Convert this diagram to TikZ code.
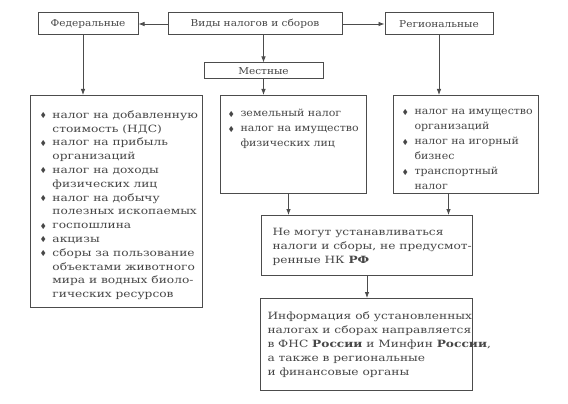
\documentclass[tikz,border=0pt]{standalone}
\usepackage{fontspec}
\setmainfont{DejaVu Serif}[FakeStretch=1.11]
\newfontfamily\boxfont{DejaVu Serif}[FakeStretch=1.22]
\newfontfamily\listfont{DejaVu Serif}[FakeStretch=1.1]
\usepackage{amssymb}
\usetikzlibrary{positioning, calc, arrows.meta}

\colorlet{linec}{black!70}
\colorlet{textc}{black!72}
\newcommand{\bul}{\makebox[12pt][l]{\raisebox{0.6pt}{\scriptsize$\blacklozenge$}}}
\newcommand{\itm}[1]{\par\noindent\bul\mbox{#1}}
\newcommand{\ind}[1]{\par\noindent\hspace*{12pt}\mbox{#1}}
\newcommand{\lne}[1]{\par\noindent\mbox{#1}}

\begin{document}
\begin{tikzpicture}[
        x=1pt, y=-1pt,
        every node/.style={font=\fontsize{9.5}{12}\selectfont, text=textc},
        headbox/.style={draw=linec, line width=1pt, inner sep=0pt, minimum height=22pt},
        listbox/.style={draw=linec, line width=1pt, anchor=north west},
        arr/.style={-{Latex[length=6pt, width=4.5pt]}, line width=0.8pt, draw=linec}
    ]
        \fill[white] (0,0) rectangle (568,404);
        \useasboundingbox (0,0) rectangle (568,404);

        % top row
        \node[headbox, minimum width=174pt] (vidy) at (255,24) {Виды налогов и сборов};
        \node[headbox, minimum width=100pt] (fed) at (88,24) {Федеральные};
        \node[headbox, minimum width=108pt] (reg) at (439,24) {Региональные};
        \node[headbox, minimum width=119pt, minimum height=16pt] (mest) at (263.5,71) {Местные};

        % lists of taxes
        \node[listbox, inner xsep=10pt, inner ysep=15pt] (fedlist) at (30,95)
            {\parbox[t][182pt][t]{152pt}{\boxfont\fontsize{10}{13.8}\selectfont
            \itm{налог на добавленную}\ind{стоимость (НДС)}
            \itm{налог на прибыль}\ind{организаций}
            \itm{налог на доходы}\ind{физических лиц}
            \itm{налог на добычу}\ind{полезных ископаемых}
            \itm{госпошлина}
            \itm{акцизы}
            \itm{сборы за пользование}\ind{объектами животного}\ind{мира и водных биоло-}\ind{гических ресурсов}}};
        \node[listbox, inner xsep=8pt, inner ysep=14pt] (midlist) at (220,95)
            {\parbox[t][70pt][t]{130pt}{\listfont\fontsize{10}{15}\selectfont
            \itm{земельный налог}
            \itm{налог на имущество}\ind{физических лиц}}};
        \node[listbox, inner xsep=9pt, inner ysep=14pt] (reglist) at (393,95)
            {\parbox[t][70pt][t]{127pt}{\listfont\fontsize{10}{15}\selectfont
            \itm{налог на имущество}\ind{организаций}
            \itm{налог на игорный}\ind{бизнес}
            \itm{транспортный}\ind{налог}}};

        % bottom boxes
        \node[listbox, inner xsep=11pt, inner ysep=13pt] (ban) at (261,215)
            {\parbox[t][34pt][t]{189pt}{\boxfont\fontsize{10}{14}\selectfont
            \lne{Не могут устанавливаться}
            \lne{налоги и сборы, не предусмот-}
            \lne{ренные НК \textbf{РФ}}}};
        \node[listbox, inner xsep=7pt, inner ysep=13pt] (info) at (260,298)
            {\parbox[t][66pt][t]{198pt}{\boxfont\fontsize{10}{14}\selectfont
            \lne{Информация об установленных}
            \lne{налогах и сборах направляется}
            \lne{в ФНС \textbf{России} и Минфин \textbf{России},}
            \lne{а также в региональные}
            \lne{и финансовые органы}}};

        % connectors
        \draw[arr] (vidy) -- (fed);
        \draw[arr] (vidy) -- (reg);
        \draw[arr] (vidy.south -| mest.north) -- (mest.north);
        \draw[arr] ([xshift=-5pt]fed.south) -- ([xshift=-5pt]fed.south |- fedlist.north);
        \draw[arr] (reg.south) -- (reg.south |- reglist.north);
        \draw[arr] (mest.south) -- (mest.south |- midlist.north);
        \draw[arr] ([xshift=-5pt]midlist.south) -- ([xshift=-5pt]midlist.south |- ban.north);
        \draw[arr] ([xshift=-17.5pt]reglist.south) -- ([xshift=-17.5pt]reglist.south |- ban.north);
        \draw[arr] (ban.south) -- (ban.south |- info.north);
    \end{tikzpicture}
\end{document}
